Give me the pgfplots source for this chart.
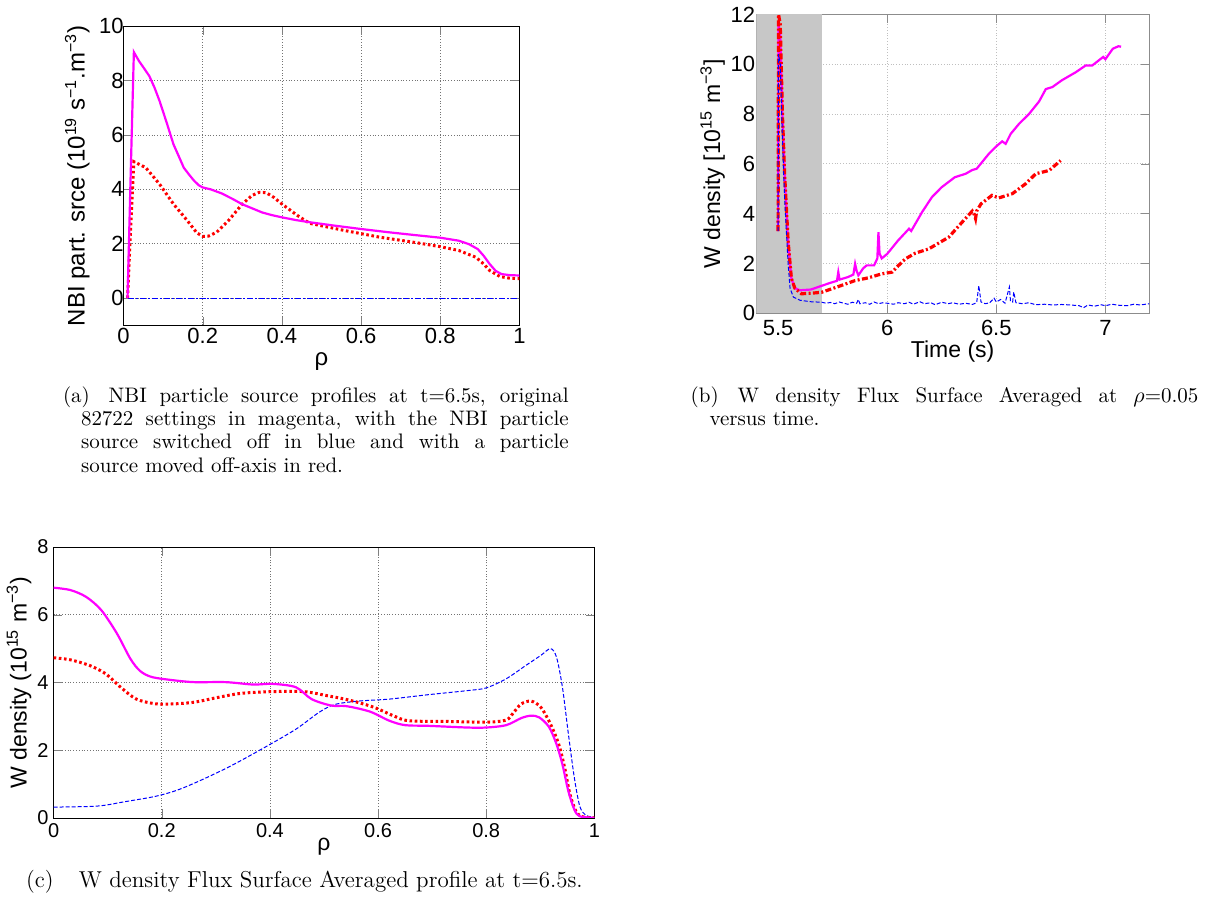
\documentclass[border=0pt]{standalone}
\usepackage{fontspec}
\usepackage{pgfplots}
\pgfplotsset{compat=1.18}
\newfontfamily\af{Liberation Sans}
\newcommand{\sps}[1]{\textsuperscript{#1}}
\definecolor{mag}{RGB}{255,0,255}
\begin{document}
\begin{tikzpicture}
\path (0,0) rectangle (603pt,-445pt);
\pgfplotsset{myax/.style={scale only axis, anchor=south west, tick align=inside,
  grid=major, major grid style={densely dotted, black!55},
  /pgf/number format/assume math mode=true,
  yticklabel shift=-3.5pt, xticklabel shift=-2pt,
  ticklabel style={font=\af\fontsize{11}{13}\selectfont},
  label style={font=\af\fontsize{12}{14}\selectfont}},
  magl/.style={color=mag, line width=1.1pt},
  redl/.style={color=red, line width=1.5pt, dash pattern=on 1.3pt off 1.3pt},
  blul/.style={color=blue, line width=0.5pt, dash pattern=on 2pt off 1pt}}
% ---------------- (a)
\begin{axis}[myax, at={(61.5pt,-159pt)}, width=198pt, height=149.5pt,
  xmin=0, xmax=1, ymin=-1, ymax=10,
  xtick={0,0.2,0.4,0.6,0.8,1}, ytick={0,2,4,6,8,10},
  xlabel style={at={(axis description cs:0.5,-0.12)}, anchor=center},
  ylabel style={at={(axis description cs:-0.117,0.5)}, anchor=center},
  xlabel={ρ}, ylabel={NBI part. srce (10\sps{19} s\sps{−1}.m\sps{−3})}]
\addplot[blul, dash pattern=on 3pt off 1pt on 1pt off 1pt] coordinates {(0.01,0) (1,0)};
\addplot[redl] coordinates {(0.010,0) (0.018,2.6) (0.026,5.02) (0.056,4.8) (0.091,4.19) (0.126,3.46) (0.161,2.85) (0.185,2.4) (0.2,2.27) (0.215,2.28) (0.235,2.42) (0.265,2.85) (0.3,3.46) (0.325,3.78) (0.343,3.89) (0.36,3.88) (0.38,3.7) (0.4,3.46) (0.44,3.03) (0.47,2.75) (0.56,2.48) (0.647,2.24) (0.734,2.05) (0.8,1.89) (0.847,1.75) (0.89,1.5) (0.91,1.25) (0.925,1.01) (0.951,0.79) (0.975,0.73) (1.0,0.71)};
\addplot[magl] coordinates {(0.010,0) (0.018,4.6) (0.026,9.05) (0.039,8.72) (0.052,8.45) (0.065,8.17) (0.078,7.75) (0.091,7.25) (0.109,6.45) (0.126,5.66) (0.14,5.2) (0.152,4.8) (0.165,4.55) (0.178,4.32) (0.19,4.15) (0.2,4.07) (0.22,4.0) (0.248,3.85) (0.275,3.65) (0.30,3.45) (0.325,3.3) (0.35,3.15) (0.375,3.05) (0.4,2.97) (0.435,2.87) (0.47,2.79) (0.53,2.67) (0.6,2.54) (0.67,2.42) (0.734,2.32) (0.8,2.22) (0.847,2.11) (0.873,1.98) (0.895,1.8) (0.91,1.55) (0.925,1.25) (0.94,1.0) (0.955,0.88) (0.977,0.84) (1.0,0.83)};
\end{axis}
% ---------------- (b)
\begin{axis}[myax, at={(378pt,-153pt)}, width=196.5pt, height=149.5pt,
  xmin=5.4, xmax=7.2, ymin=0, ymax=12,
  xtick={5.5,6,6.5,7}, ytick={0,2,4,6,8,10,12},
  major grid style={densely dotted, black!25},
  axis line style={black!45}, tick style={black!45},
  yticklabel shift=-3pt, xticklabel shift=0pt,
  ticklabel style={font=\af\fontsize{11}{13}\selectfont},
  label style={font=\af\fontsize{11.5}{13}\selectfont},
  xlabel style={at={(axis description cs:0.5,-0.13)}, anchor=center},
  ylabel style={at={(axis description cs:-0.111,0.5)}, anchor=center},
  xlabel={Time (s)}, ylabel={W density [10\sps{15} m\sps{−3}]}]
\addplot[fill=black!22, draw=none] coordinates {(5.4,0) (5.7,0) (5.7,12) (5.4,12)} -- cycle;
\addplot[magl] coordinates {(5.5,3.3)(5.502,11.6)(5.51,11.2)(5.52,8)(5.53,5.6)(5.546,2.9)(5.561,1.4)(5.577,1.0)(5.6,0.92)(5.65,0.95)(5.7,1.1)(5.74,1.22)(5.77,1.3)(5.776,1.65)(5.782,1.35)(5.82,1.45)(5.845,1.55)(5.853,1.98)(5.86,1.7)(5.868,1.52)(5.89,1.8)(5.906,1.92)(5.94,1.92)(5.955,2.2)(5.96,3.25)(5.965,2.4)(5.975,2.2)(6.0,2.38)(6.05,2.92)(6.1,3.39)(6.11,3.3)(6.16,4.06)(6.205,4.66)(6.25,5.06)(6.31,5.46)(6.36,5.6)(6.39,5.75)(6.41,5.8)(6.466,6.4)(6.5,6.7)(6.527,6.9)(6.543,6.8)(6.566,7.2)(6.604,7.6)(6.65,8.0)(6.696,8.5)(6.727,9.0)(6.757,9.08)(6.80,9.35)(6.865,9.68)(6.91,9.95)(6.94,9.95)(6.99,10.29)(7.0,10.2)(7.034,10.62)(7.06,10.72)(7.072,10.7)};
\addplot[color=red, line width=1.6pt, dash pattern=on 3pt off 1.2pt on 1pt off 1.2pt] coordinates {(5.5,3.3)(5.502,12)(5.51,11.6)(5.52,8)(5.53,5.6)(5.546,2.9)(5.561,1.4)(5.577,1.0)(5.607,0.78)(5.65,0.8)(5.7,0.84)(5.776,1.07)(5.853,1.31)(5.914,1.42)(5.975,1.58)(6.023,1.65)(6.05,1.9)(6.083,2.18)(6.129,2.41)(6.19,2.58)(6.282,3.05)(6.344,3.66)(6.39,4.1)(6.40,3.95)(6.405,3.8)(6.41,4.1)(6.43,4.39)(6.48,4.73)(6.512,4.63)(6.574,4.8)(6.635,5.2)(6.681,5.6)(6.742,5.73)(6.795,6.13)};
\addplot[blul] coordinates {(5.5,3.3)(5.502,10.4)(5.51,10)(5.52,7)(5.53,4.6)(5.546,2.0)(5.555,1.0)(5.57,0.65)(5.6,0.52)(5.65,0.46)(5.7,0.44)(5.72,0.40)(5.74,0.43)(5.76,0.38)(5.78,0.45)(5.80,0.40)(5.82,0.36)(5.84,0.44)(5.86,0.40)(5.868,0.55)(5.875,0.38)(5.90,0.42)(5.92,0.36)(5.94,0.45)(5.96,0.38)(5.98,0.42)(6.0,0.40)(6.03,0.36)(6.05,0.42)(6.08,0.38)(6.10,0.44)(6.12,0.36)(6.15,0.46)(6.17,0.38)(6.2,0.42)(6.22,0.34)(6.25,0.44)(6.28,0.38)(6.30,0.42)(6.33,0.36)(6.36,0.40)(6.39,0.35)(6.41,0.42)(6.42,1.1)(6.43,0.45)(6.45,0.38)(6.47,0.42)(6.49,0.6)(6.50,0.45)(6.52,0.55)(6.54,0.40)(6.56,1.05)(6.565,0.5)(6.575,0.45)(6.58,0.85)(6.59,0.42)(6.62,0.38)(6.65,0.42)(6.68,0.34)(6.72,0.36)(6.76,0.33)(6.80,0.35)(6.84,0.33)(6.88,0.30)(6.90,0.22)(6.92,0.33)(6.95,0.28)(6.98,0.34)(7.0,0.30)(7.03,0.36)(7.06,0.32)(7.1,0.30)(7.13,0.36)(7.16,0.33)(7.2,0.38)};
\end{axis}
% ---------------- (c)
\begin{axis}[myax, at={(26.5pt,-405.5pt)}, width=270.5pt, height=135.5pt,
  xmin=0, xmax=1, ymin=0, ymax=8,
  xtick={0,0.2,0.4,0.6,0.8,1}, ytick={0,2,4,6,8},
  yticklabel shift=-1pt, xticklabel shift=-0.5pt,
  ticklabel style={font=\af\fontsize{10}{12}\selectfont},
  label style={font=\af\fontsize{11.5}{13}\selectfont},
  xlabel style={at={(axis description cs:0.5,-0.108)}, anchor=center},
  ylabel style={at={(axis description cs:-0.064,0.5)}, anchor=center},
  xlabel={ρ}, ylabel={W density (10\sps{15} m\sps{−3})}]
\addplot[blul, smooth] coordinates {(0,0.32)(0.081,0.35)(0.132,0.48)(0.189,0.64)(0.232,0.84)(0.283,1.19)(0.333,1.58)(0.39,2.08)(0.448,2.62)(0.491,3.12)(0.52,3.35)(0.563,3.45)(0.621,3.51)(0.693,3.64)(0.765,3.76)(0.8,3.84)(0.837,4.11)(0.873,4.5)(0.901,4.8)(0.919,5.0)(0.93,4.75)(0.941,3.86)(0.952,2.48)(0.963,1.19)(0.973,0.35)(0.984,0.08)(1.0,0.02)};
\addplot[redl, smooth] coordinates {(0,4.73)(0.031,4.67)(0.067,4.5)(0.096,4.26)(0.124,3.86)(0.153,3.51)(0.189,3.37)(0.225,3.37)(0.261,3.42)(0.304,3.56)(0.347,3.68)(0.405,3.73)(0.463,3.73)(0.506,3.61)(0.549,3.47)(0.592,3.27)(0.628,3.02)(0.657,2.87)(0.729,2.85)(0.8,2.83)(0.837,2.89)(0.851,3.12)(0.865,3.37)(0.883,3.45)(0.901,3.27)(0.919,2.77)(0.934,2.18)(0.945,1.49)(0.955,0.69)(0.966,0.2)(0.977,0.04)(1.0,0)};
\addplot[magl, smooth] coordinates {(0,6.8)(0.031,6.73)(0.06,6.53)(0.088,6.14)(0.117,5.45)(0.142,4.7)(0.16,4.34)(0.182,4.16)(0.225,4.06)(0.261,4.01)(0.319,4.01)(0.369,3.94)(0.405,3.96)(0.448,3.86)(0.477,3.51)(0.513,3.32)(0.542,3.3)(0.585,3.14)(0.621,2.87)(0.65,2.74)(0.693,2.72)(0.765,2.67)(0.8,2.67)(0.837,2.74)(0.865,2.95)(0.883,3.02)(0.898,2.97)(0.916,2.69)(0.93,2.18)(0.941,1.58)(0.952,0.79)(0.963,0.25)(0.973,0.05)(1.0,0)};
\end{axis}
% ---------------- captions
\node[anchor=base west, inner sep=0pt, font=\fontsize{10.5}{11.7}\selectfont] at (31pt,-197.5pt) {\parbox[t]{253pt}{\hangindent=9pt\hangafter=1 (a)\hspace{0.9em}NBI particle source profiles at t=6.5s, original\linebreak 82722 settings in magenta, with the NBI particle\linebreak source switched off in blue and with a particle\linebreak source moved off-axis in red.}};
\node[anchor=base west, inner sep=0pt, font=\fontsize{10.5}{11.7}\selectfont] at (345pt,-197.5pt) {\parbox[t]{254pt}{\hangindent=9.5pt\hangafter=1 (b)\hspace{0.9em}W density Flux Surface Averaged at $\rho$=0.05\linebreak versus time.}};
\node[anchor=base west, inner sep=0pt, font=\fontsize{11.5}{12}\selectfont] at (12.5pt,-440.5pt) {(c)\hspace{1.1em}W density Flux Surface Averaged profile at t=6.5s.};
\end{tikzpicture}
\end{document}
